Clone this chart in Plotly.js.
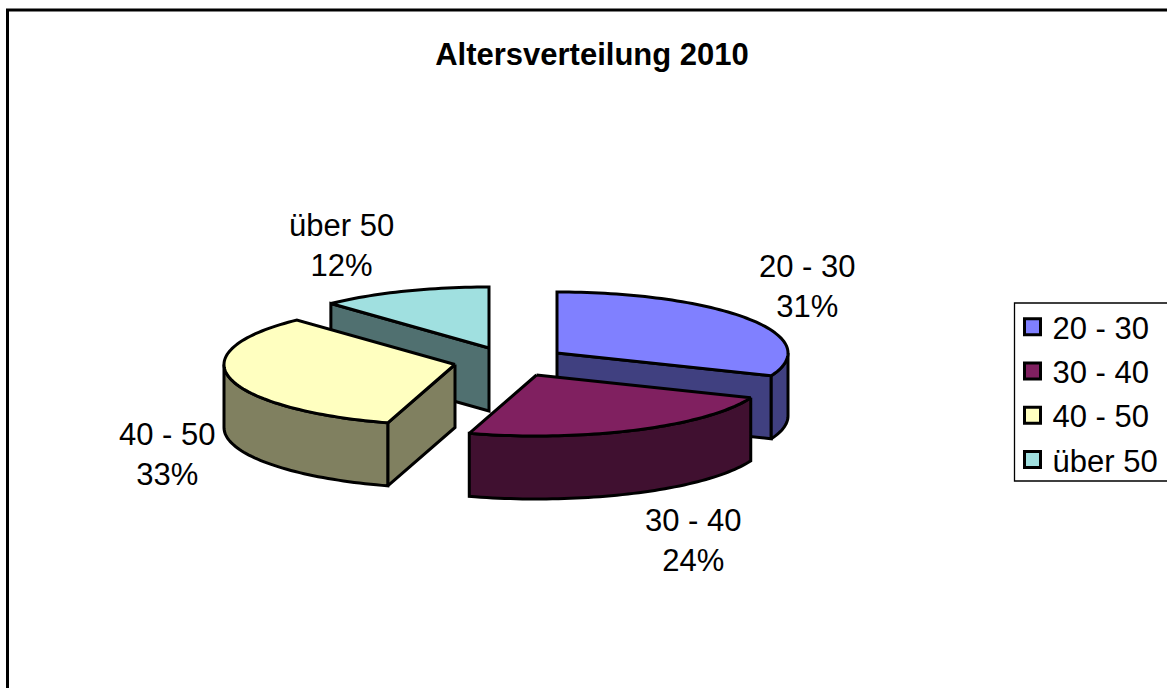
<!DOCTYPE html>
<html>
<head>
<meta charset="utf-8">
<script src="https://cdn.plot.ly/plotly-3.0.1.min.js"></script>
<style>html,body{margin:0;padding:0;background:#fff;overflow:hidden}</style>
</head>
<body>
<div id="chart" style="width:1167px;height:688px"></div>
<script>
const categories = ['20 - 30', '30 - 40', '40 - 50', 'über 50'];
const shares = [31.1, 23.6, 33.3, 12.0];
const topColors = ['#8080FF', '#802060', '#FFFFC0', '#A0E0E0'];
const sideColors = ['#404080', '#401030', '#808060', '#507070'];

// Pie projection (plot units = pixels)
const radiusX = 231, radiusY = 61, depth = 63;
const apexX = [557, 536.5, 455, 489];
const apexY = [353, 375, 364.5, 348];
const labelX = [807, 693, 167, 341];
const labelY = [286, 540, 454, 245];

const total = shares.reduce((a, b) => a + b, 0);
const bounds = [0];
shares.forEach((v, i) => bounds.push(bounds[i] + v / total * 360));
const rad = d => d * Math.PI / 180;
const rimPoint = (i, deg, dy) => [
  apexX[i] + radiusX * Math.sin(rad(deg)),
  apexY[i] - radiusY * Math.cos(rad(deg)) + dy
];
function arc(i, a, b, dy) {
  const n = Math.max(2, Math.ceil(Math.abs(b - a) / 1.5));
  const pts = [];
  for (let k = 0; k <= n; k++) pts.push(rimPoint(i, a + (b - a) * k / n, dy));
  return pts;
}
function poly(pts, color) {
  const xs = pts.map(p => p[0]), ys = pts.map(p => p[1]);
  xs.push(xs[0]); ys.push(ys[0]);
  return {
    type: 'scatter', mode: 'lines', x: xs, y: ys, fill: 'toself', fillcolor: color,
    line: {color: '#000', width: 3, simplify: false}, showlegend: false, hoverinfo: 'skip'
  };
}
const topFace = i => poly([[apexX[i], apexY[i]]].concat(arc(i, bounds[i], bounds[i + 1], 0)), topColors[i]);
const rimWall = (i, a, b) => poly(arc(i, a, b, 0).concat(arc(i, b, a, depth)), sideColors[i]);
function cutWall(i, deg) {
  const p = rimPoint(i, deg, 0), q = rimPoint(i, deg, depth);
  return poly([[apexX[i], apexY[i]], p, q, [apexX[i], apexY[i] + depth]], sideColors[i]);
}

const traces = [
  cutWall(3, bounds[3]), topFace(3),
  cutWall(2, bounds[2]), rimWall(2, bounds[2], 270), topFace(2),
  cutWall(0, bounds[1]), rimWall(0, 90, bounds[1]), topFace(0),
  rimWall(1, bounds[1], bounds[2]), topFace(1)
];

// Legend entries
categories.forEach((c, i) => traces.push({
  type: 'scatter', mode: 'markers', x: [null], y: [null], name: c, legendgroup: c,
  marker: {symbol: 'square', size: 16, color: topColors[i], line: {color: '#000', width: 3}},
  hoverinfo: 'skip'
}));

const font = {family: '"Liberation Sans", Arial, sans-serif', color: '#000', size: 31};

const annotations = categories.map((c, i) => ({
  xref: 'x', yref: 'y', x: labelX[i], y: labelY[i], xanchor: 'center', yanchor: 'middle',
  text: c + '<br>' + Math.round(shares[i] / total * 100) + '%', showarrow: false, font: font
}));

const layout = {
  width: 1167, height: 688,
  margin: {l: 0, r: 0, t: 0, b: 0},
  paper_bgcolor: '#fff', plot_bgcolor: 'rgba(0,0,0,0)',
  title: {
    text: '<b>Altersverteilung 2010</b>', x: 592 / 1167, xanchor: 'center',
    xref: 'paper', yref: 'paper', y: 1 - 54 / 688, yanchor: 'middle',
    font: {family: font.family, size: 31, color: '#000'}
  },
  xaxis: {range: [0, 1167], visible: false, fixedrange: true},
  yaxis: {range: [688, 0], visible: false, fixedrange: true},
  showlegend: true,
  legend: {
    x: 1012.5 / 1167, xanchor: 'left', y: 1 - 300 / 688, yanchor: 'top',
    bgcolor: 'rgba(0,0,0,0)', borderwidth: 0, font: font,
    tracegroupgap: 1, itemclick: false, itemdoubleclick: false
  },
  shapes: [
    {type: 'rect', xref: 'paper', yref: 'paper', x0: 7.5 / 1167, x1: 1.02, y0: -0.02, y1: 1 - 10 / 688,
     line: {color: '#000', width: 3}, layer: 'below'},
    {type: 'rect', xref: 'paper', yref: 'paper', x0: 1014.5 / 1167, x1: 1.02, y0: 1 - 481 / 688, y1: 1 - 303 / 688,
     line: {color: '#000', width: 1.3}, layer: 'below'}
  ],
  annotations: annotations
};

Plotly.newPlot('chart', traces, layout, {displayModeBar: false, staticPlot: true});
</script>
</body>
</html>
